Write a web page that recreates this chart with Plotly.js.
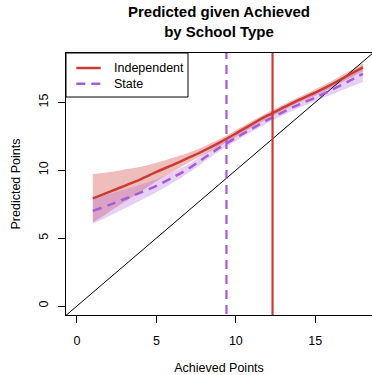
<!DOCTYPE html>
<html>
<head>
<meta charset="utf-8">
<script src="https://cdn.plot.ly/plotly-3.0.1.min.js"></script>
<style>html,body{margin:0;padding:0;background:#fff;overflow:hidden}#chart{width:372px;height:375px}</style>
</head>
<body>
<div id="chart"></div>
<script>
// Achieved points grid
const achieved = [1,2,3,4,5,6,7,8,9,10,11,12,13,14,15,16,17,18];
// Independent schools: fitted predicted points and confidence band
const indFit   = [7.93,8.38,8.85,9.33,9.87,10.38,10.90,11.45,12.05,12.70,13.38,14.03,14.62,15.20,15.72,16.30,16.95,17.57];
const indLower = [6.14,6.91,7.65,8.41,9.19,9.86,10.53,11.15,11.80,12.45,13.16,13.81,14.42,15.00,15.49,16.05,16.68,17.27];
const indUpper = [9.72,9.85,10.05,10.25,10.55,10.90,11.27,11.75,12.30,12.95,13.60,14.25,14.82,15.40,15.95,16.55,17.22,17.87];
// State schools: fitted predicted points and confidence band
const stFit    = [7.00,7.43,7.88,8.35,8.85,9.45,10.10,10.90,11.68,12.38,13.05,13.70,14.30,14.85,15.35,15.90,16.48,17.10];
const stLower  = [6.05,6.61,7.18,7.77,8.37,9.05,9.77,10.62,11.43,12.15,12.83,13.48,14.07,14.60,15.07,15.55,16.03,16.50];
const stUpper  = [7.95,8.25,8.58,8.93,9.33,9.85,10.43,11.18,11.93,12.61,13.27,13.92,14.53,15.10,15.63,16.25,16.93,17.70];
// Mean achieved points by school type (vertical reference lines)
const groups = ["Independent","State"];
const meanAchieved = [12.31, 9.41];
// Identity line y = x
const identity = [-1, 20];
const xTicks = [0,5,10,15];
const yTicks = [0,5,10,15];

const RED = "#cd3a33", PURPLE = "#a65bd8";
const DASH = "9px,6px";
const font = "Liberation Sans, Arial, Helvetica, sans-serif";
const SM = 0.8;

const traces = [
  {x: achieved, y: indLower, mode: "lines", line: {width: 0, color: RED, shape: "spline", smoothing: SM}, showlegend: false, hoverinfo: "skip"},
  {x: achieved, y: indUpper, mode: "lines", line: {width: 0, color: RED, shape: "spline", smoothing: SM}, fill: "tonexty", fillcolor: "rgba(205,58,51,0.33)", showlegend: false, hoverinfo: "skip"},
  {x: achieved, y: stLower, mode: "lines", line: {width: 0, color: PURPLE, shape: "spline", smoothing: SM}, showlegend: false, hoverinfo: "skip"},
  {x: achieved, y: stUpper, mode: "lines", line: {width: 0, color: PURPLE, shape: "spline", smoothing: SM}, fill: "tonexty", fillcolor: "rgba(166,91,216,0.28)", showlegend: false, hoverinfo: "skip"},
  {x: identity, y: identity, mode: "lines", line: {width: 1, color: "#000"}, showlegend: false},
  {x: achieved, y: indFit, mode: "lines", name: groups[0], line: {width: 2.5, color: RED, shape: "spline", smoothing: SM}, showlegend: false},
  {x: achieved, y: stFit, mode: "lines", name: groups[1], line: {width: 2.5, color: PURPLE, dash: DASH, shape: "spline", smoothing: SM}, showlegend: false},
  {x: [meanAchieved[0], meanAchieved[0]], y: [-5, 25], mode: "lines", line: {width: 2.2, color: RED}, showlegend: false},
  {x: [meanAchieved[1], meanAchieved[1]], y: [-5, 25], mode: "lines", line: {width: 2.2, color: PURPLE, dash: DASH}, showlegend: false}
];

// Legend box drawn in paper coordinates (R-style legend)
const legColors = [RED, PURPLE];
const legDash = ["solid", DASH];
const legRows = [0.9427, 0.8828];
const shapes = [
  {type: "rect", xref: "paper", yref: "paper", x0: 0, x1: 0.3987, y0: 0.832, y1: 1,
   line: {color: "#000", width: 1}, fillcolor: "#fff", layer: "above"}
];
const annotations = [];
groups.forEach((g, i) => {
  shapes.push({type: "line", xref: "paper", yref: "paper", x0: 0.0337, x1: 0.1134, y0: legRows[i], y1: legRows[i],
               line: {color: legColors[i], width: 2.5, dash: legDash[i]}, layer: "above"});
  annotations.push({text: g, xref: "paper", yref: "paper", x: 0.1513, y: legRows[i], xanchor: "left", yanchor: "middle",
                    showarrow: false, font: {size: 12.5, color: "#000"}});
});

const layout = {
  width: 372, height: 375,
  margin: {l: 66, r: 0, t: 53, b: 60},
  paper_bgcolor: "#fff", plot_bgcolor: "#fff",
  font: {family: font, size: 12, color: "#000"},
  title: {text: "<b>Predicted given Achieved<br>by School Type</b>", font: {family: font, size: 15, color: "#000"},
          x: 0.5, xref: "paper", y: 0.954, yref: "container", yanchor: "top"},
  xaxis: {range: [-0.69, 18.57], tickvals: xTicks, ticks: "outside", ticklen: 7, tickwidth: 1, tickcolor: "#000",
          showline: true, linecolor: "#000", linewidth: 1, mirror: true, showgrid: false, zeroline: false,
          ticklabelstandoff: 7, tickfont: {size: 12.5},
          title: {text: "Achieved Points", font: {size: 12.5}, standoff: 19}},
  yaxis: {range: [-0.663, 18.63], tickvals: yTicks, ticks: "outside", ticklen: 7, tickwidth: 1, tickcolor: "#000",
          showline: true, linecolor: "#000", linewidth: 1, showgrid: false, zeroline: false, tickangle: -90,
          ticklabelstandoff: 5, tickfont: {size: 12.5},
          title: {text: "Predicted Points", font: {size: 12.5}, standoff: 13}},
  shapes: shapes,
  annotations: annotations,
  showlegend: false
};

Plotly.newPlot("chart", traces, layout, {displayModeBar: false, staticPlot: true});
</script>
</body>
</html>
